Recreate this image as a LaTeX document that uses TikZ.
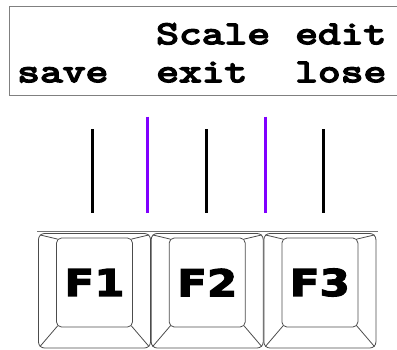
\documentclass[tikz,border=0pt]{standalone}
\usepackage{fontspec}
\newfontfamily\dispfont{Latin Modern Mono}[FakeStretch=1.34, FakeBold=5]
\newfontfamily\keyfont{DejaVu Sans}[FakeStretch=1.18, FakeBold=3]
\definecolor{purp}{RGB}{128,0,255}
\tikzset{
  boxline/.style={draw=black!50, line width=0.9pt},
  disptext/.style={anchor=base west, inner sep=0pt, font=\fontsize{33}{33}\selectfont\dispfont},
  tick/.style={line width=2.8pt, black},
  ptick/.style={line width=2.8pt, purp},
  keyline/.style={draw=black!70, line width=0.8pt},
  keyouter/.style={keyline, rounded corners=6pt, minimum width=112pt, minimum height=114.5pt, inner sep=0pt},
  keyface/.style={keyline, rounded corners=5pt, minimum width=76pt, minimum height=89pt, inner sep=0pt, font=\fontsize{37}{37}\selectfont\keyfont\bfseries},
}
\begin{document}
\begin{tikzpicture}[x=1pt,y=-1pt]
\useasboundingbox (0,0) rectangle (397,349);
% display
\draw[boxline] (400,6.7) -- (9.5,6.7) -- (9.5,95.5) -- (400,95.5);
\node[disptext] (scale) at (156,44) {Scale};
\node[disptext] (edit) at (295,44) {edit};
\node[disptext] (save) at (17,82) {save};
\node[disptext] (exit) at (156,82) {exit};
\node[disptext] (lose) at (295,82) {lose};
% ticks
\coordinate (t1a) at (92.3,129); \coordinate (t1b) at (92.3,212.7);
\coordinate (t2a) at (147.7,116.7); \coordinate (t2b) at (147.7,212.7);
\coordinate (t3a) at (206.7,129); \coordinate (t3b) at (206.7,212.7);
\coordinate (t4a) at (265.7,116.7); \coordinate (t4b) at (265.7,212.7);
\coordinate (t5a) at (323.3,129); \coordinate (t5b) at (323.3,212.7);
\draw[tick] (t1a) -- (t1b);
\draw[ptick] (t2a) -- (t2b);
\draw[tick] (t3a) -- (t3b);
\draw[ptick] (t4a) -- (t4b);
\draw[tick] (t5a) -- (t5b);
% keyboard edge
\coordinate (ea) at (37,231.5); \coordinate (eb) at (378,231.5);
\draw[draw=black!55, line width=0.8pt] (ea) -- (eb);
% keys
\foreach \i/\L in {1/38.5, 2/151.2, 3/263.9}{
  \node[keyouter] (k\i) at (\L+56,290.75) {};
  \node[keyface] (f\i) at (\L+56,282.5) {F\i};
  \draw[keyline] ([shift={(1.5,1.5)}]f\i.north west) -- ([shift={(1.8,1.8)}]k\i.north west);
  \draw[keyline] ([shift={(-1.5,1.5)}]f\i.north east) -- ([shift={(-1.8,1.8)}]k\i.north east);
  \draw[keyline] ([shift={(1.5,-1.5)}]f\i.south west) -- ([shift={(1.8,-1.8)}]k\i.south west);
  \draw[keyline] ([shift={(-1.5,-1.5)}]f\i.south east) -- ([shift={(-1.8,-1.8)}]k\i.south east);
}
\end{tikzpicture}
\end{document}
